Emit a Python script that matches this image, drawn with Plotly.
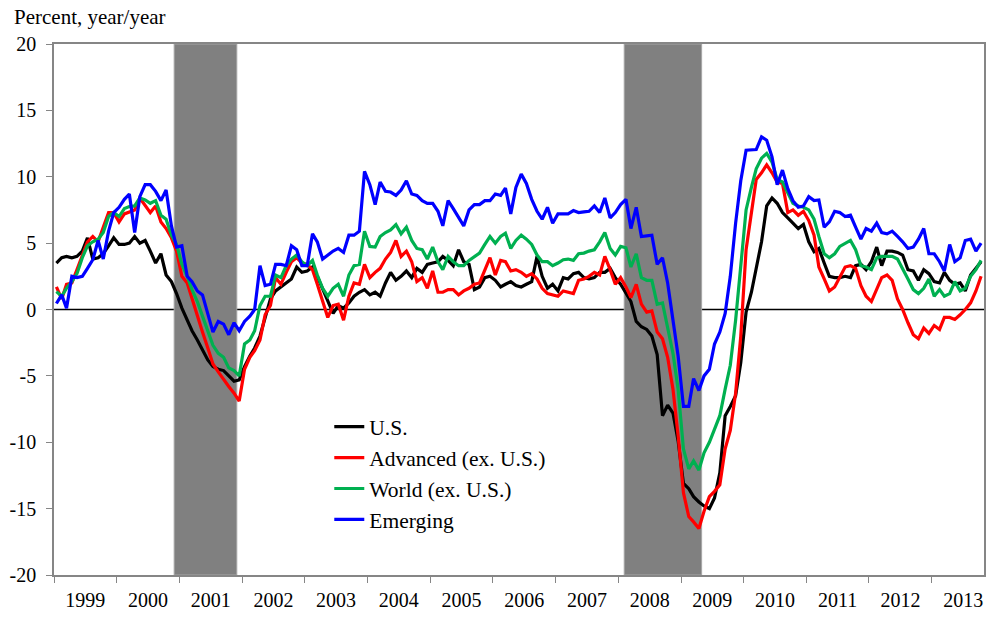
import pandas as pd
import plotly.graph_objects as go

# Monthly data, Jan 1999 - Oct 2013 (percent, year/year)
start_month = "1999-01-01"
n_months = 178

us = [3.5, 3.9, 4.0, 3.9, 4.0, 4.4, 5.4, 3.8, 3.9, 4.2, 4.8, 5.4,
      4.9, 4.9, 5.0, 5.5, 5.0, 5.2, 4.4, 3.5, 4.2, 2.6, 2.1, 1.2,
      0.1, -0.8, -1.6, -2.3, -3.1, -3.8, -4.3, -4.5, -4.6, -5.0, -5.4, -5.3,
      -4.3, -3.5, -2.9, -2.0, -0.6, 0.8, 1.4, 1.7, 2.0, 2.3, 3.2, 2.8,
      2.9, 3.2, 2.5, 1.6, 0.7, -0.3, 0.3, 0.1, 0.5, 1.0, 1.3, 1.5,
      1.1, 1.3, 1.0, 2.0, 2.8, 2.2, 2.5, 2.9, 2.4, 3.1, 2.8, 3.4,
      3.5, 3.6, 4.0, 3.7, 3.3, 4.5, 3.6, 3.4, 1.5, 1.7, 2.4, 2.5,
      2.2, 1.7, 1.9, 2.1, 1.8, 1.7, 1.9, 2.1, 4.0, 2.5, 1.6, 1.9,
      1.4, 2.4, 2.3, 2.7, 2.8, 2.4, 2.3, 2.4, 2.8, 2.8, 3.1, 2.4,
      1.9, 1.2, 0.6, -0.9, -1.3, -1.5, -2.0, -3.4, -8.0, -7.2, -7.8, -9.9,
      -13.1, -13.5, -14.1, -14.5, -14.8, -15.0, -14.2, -12.3, -8.0, -7.3, -6.5, -4.0,
      -0.2, 1.3, 3.2, 5.1, 7.8, 8.4, 8.0, 7.3, 6.9, 6.5, 6.1, 6.4,
      5.1, 4.35, 4.6, 3.5, 2.5, 2.4, 2.4, 2.5, 2.4, 3.3, 3.4, 3.0,
      3.6, 4.7, 3.3, 4.4, 4.4, 4.3, 4.1, 3.0, 2.9, 2.2, 3.0, 2.7,
      2.1, 2.0, 2.8, 2.2, 1.9, 2.0, 1.4, 2.6, 3.1, 3.6]

advanced = [1.7, 0.8, 1.9, 2.0, 3.0, 4.0, 5.1, 5.5, 5.1, 6.2, 7.3, 7.3,
            6.6, 7.2, 7.35, 7.5, 8.4, 7.8, 7.3, 7.8, 6.6, 6.1, 5.4, 4.4,
            2.5, 2.0, 0.8, -0.5, -1.7, -2.9, -4.1, -4.7, -5.3, -5.8, -6.3, -6.9,
            -4.5, -3.6, -3.1, -2.3, -0.4, 0.3, 2.4, 1.9, 2.8, 3.6, 3.9, 3.5,
            3.4, 3.0, 1.9, 0.6, -0.6, 0.3, 0.4, -0.8, 1.0, 2.0, 1.9, 3.4,
            2.4, 2.8, 3.1, 3.8, 4.3, 5.2, 4.0, 4.4, 3.6, 2.1, 2.4, 1.6,
            2.9, 1.3, 1.3, 1.5, 1.5, 1.1, 1.4, 1.6, 1.9, 2.0, 3.0, 3.9,
            2.6, 3.7, 3.6, 2.9, 3.0, 2.8, 2.5, 2.7, 2.3, 1.6, 1.2, 1.1,
            1.0, 1.4, 1.3, 1.2, 2.2, 2.3, 2.5, 2.8, 2.6, 4.0, 3.0, 1.9,
            2.4, 1.7, 0.9, 1.9, 0.4, -0.2, -0.1, -1.7, -2.2, -3.6, -6.0, -9.5,
            -13.8, -15.6, -16.0, -16.5, -15.2, -14.1, -13.7, -13.2, -10.5, -9.1, -6.3, -2.0,
            4.5, 7.2, 9.8, 10.3, 10.9, 10.3, 9.6, 9.5, 7.3, 7.5, 7.1, 7.4,
            6.7, 5.6, 3.2, 2.3, 1.4, 1.7, 2.5, 3.2, 3.3, 3.1, 1.8, 1.0,
            0.6, 1.5, 2.4, 2.6, 2.2, 0.8, 0.0, -1.0, -1.9, -2.2, -1.4, -1.8,
            -1.2, -1.5, -0.6, -0.6, -0.75, -0.4, 0.0, 0.5, 1.4, 2.5]

world = [1.35, 1.0, 1.6, 2.1, 2.7, 3.9, 4.8, 5.1, 5.3, 5.8, 7.0, 7.3,
         7.0, 7.6, 7.75, 7.8, 8.4, 8.25, 8.0, 8.2, 7.1, 6.8, 5.6, 4.9,
         3.4, 2.5, 1.5, 0.6, -0.5, -1.6, -2.7, -3.3, -3.6, -4.4, -4.6, -5.0,
         -2.6, -2.3, -1.6, 0.3, 1.0, 1.0, 2.6, 2.4, 3.3, 3.8, 4.1, 3.6,
         3.3, 3.7, 2.6, 1.6, 1.0, 1.6, 1.9, 1.0, 2.6, 3.3, 3.4, 5.9,
         4.75, 4.7, 5.5, 5.8, 6.0, 6.4, 5.7, 6.2, 5.2, 4.6, 4.5, 3.8,
         4.7, 3.6, 3.0, 4.0, 3.6, 3.3, 3.3, 3.7, 4.0, 4.25, 4.9, 5.5,
         5.0, 5.5, 5.75, 4.6, 5.2, 5.6, 5.3, 4.9, 4.1, 3.6, 3.6, 3.3,
         3.5, 3.75, 3.8, 3.7, 4.2, 4.25, 4.4, 4.5, 5.1, 5.8, 4.6, 4.1,
         4.75, 4.65, 3.2, 4.2, 2.4, 2.2, 2.2, 0.4, 0.5, -1.3, -3.3, -6.0,
         -10.5, -12.0, -11.4, -12.1, -10.8, -10.0, -9.0, -8.0, -6.0, -4.2, -0.8, 3.5,
         7.5, 9.2, 10.6, 11.4, 11.75, 11.1, 9.8, 9.6, 8.8, 8.0, 7.8, 7.7,
         7.5, 6.8, 5.5, 4.2, 3.9, 4.2, 4.75, 5.0, 5.2, 4.5, 3.3, 3.2,
         3.0, 3.9, 4.0, 4.0, 4.0, 3.8, 3.0, 2.3, 1.5, 1.2, 1.6, 2.3,
         1.0, 1.5, 1.0, 1.2, 2.1, 1.4, 1.6, 2.5, 3.0, 3.7]

emerging = [0.45, 1.1, 0.1, 2.5, 2.4, 2.5, 3.1, 3.75, 5.2, 3.8, 5.9, 7.3,
            7.7, 8.3, 8.7, 5.8, 8.5, 9.4, 9.4, 8.9, 8.2, 9.0, 6.3, 4.7,
            4.8, 2.5, 2.1, 1.4, 1.1, -0.4, -1.7, -0.9, -1.1, -1.9, -1.0, -1.6,
            -0.9, -0.5, 0.0, 3.3, 1.8, 1.9, 3.4, 3.4, 3.3, 4.8, 4.5, 3.3,
            3.3, 5.7, 5.1, 3.8, 4.1, 4.4, 4.6, 4.3, 5.6, 5.6, 5.9, 10.4,
            9.4, 7.9, 9.6, 8.9, 8.85, 8.6, 9.0, 9.7, 8.7, 8.6, 8.2, 8.0,
            8.0, 7.4, 6.3, 8.2, 7.6, 6.9, 6.3, 7.5, 7.9, 7.9, 8.2, 8.2,
            8.7, 8.6, 9.15, 7.2, 9.2, 10.2, 9.5, 8.3, 7.4, 6.8, 7.7, 6.5,
            7.2, 7.2, 7.2, 7.45, 7.3, 7.35, 7.4, 7.8, 7.3, 8.4, 6.9, 7.3,
            7.9, 8.3, 6.1, 7.7, 5.5, 5.55, 5.6, 3.4, 3.9, 2.0, -0.8, -3.5,
            -7.3, -7.3, -5.2, -6.1, -5.0, -4.5, -2.6, -1.7, -0.3, 2.5, 6.5, 9.7,
            12.0, 12.0, 12.05, 13.0, 12.75, 11.5, 9.4, 10.5, 9.1, 8.2, 7.7, 7.8,
            8.5, 8.2, 8.25, 6.2, 6.6, 7.4, 7.3, 7.0, 7.1, 6.2, 5.3, 6.1,
            5.9, 6.5, 5.8, 5.7, 5.9, 5.5, 5.1, 4.6, 4.7, 5.3, 6.1, 4.2,
            4.2, 3.6, 2.9, 4.9, 3.6, 3.9, 5.2, 5.3, 4.4, 5.0]

series_names = ["U.S.", "Advanced (ex. U.S.)", "World (ex. U.S.)", "Emerging"]
series_colors = ["#000000", "#FF0000", "#00B050", "#0000FF"]

recessions = [("2000-12-01", "2001-12-01"), ("2008-02-05", "2009-05-01")]

y_tickvals = [20, 15, 10, 5, 0, -5, -10, -15, -20]
y_ticktext = ["20", "15", "10", "5", "0", "-5", "-10", "-15", "-20"]

dates = pd.date_range(start=start_month, periods=n_months, freq="MS") + pd.Timedelta(days=14)

FONT = "Liberation Serif, Times New Roman, serif"
AXIS_GRAY = "#868686"

fig = go.Figure()
for name, vals, col in zip(series_names, [us, advanced, world, emerging], series_colors):
    fig.add_trace(go.Scatter(x=dates, y=vals, mode="lines", name=name,
                             line=dict(color=col, width=3.2)))

shapes = []
for s, e in recessions:
    shapes.append(dict(type="rect", xref="x", yref="y", x0=s, x1=e, y0=-20, y1=20,
                       fillcolor="#808080", line=dict(color="#A6A6A6", width=1), layer="below"))
shapes.append(dict(type="line", xref="paper", yref="y", x0=0, x1=1, y0=0, y1=0,
                   line=dict(color="#000000", width=1.5), layer="below"))

fig.update_layout(
    width=995, height=620,
    margin=dict(l=54, r=9, t=44, b=42),
    paper_bgcolor="white", plot_bgcolor="white",
    font=dict(family=FONT, size=20, color="#000000"),
    shapes=shapes,
    showlegend=True,
    legend=dict(x=0.296, y=0.318, xanchor="left", yanchor="top",
                bgcolor="rgba(0,0,0,0)", font=dict(family=FONT, size=21.5)),
    annotations=[dict(text="Percent, year/year", xref="paper", yref="paper",
                      x=-0.045, y=1.05, xanchor="left", yanchor="middle",
                      showarrow=False, font=dict(family=FONT, size=21))],
    xaxis=dict(type="date", range=["1999-01-01", "2013-11-01"],
               tick0="1999-01-01", dtick="M12", tickformat="%Y",
               ticklabelmode="period", ticks="outside", ticklen=6,
               tickcolor=AXIS_GRAY, showline=True, linecolor=AXIS_GRAY,
               linewidth=1.5, mirror=True, showgrid=False, zeroline=False,
               tickfont=dict(family=FONT, size=20)),
    yaxis=dict(range=[-20, 20], tickvals=y_tickvals, ticktext=y_ticktext,
               ticks="outside", ticklen=6, tickcolor=AXIS_GRAY,
               showline=True, linecolor=AXIS_GRAY, linewidth=1.5, mirror=True,
               showgrid=False, zeroline=False, ticklabelstandoff=6,
               tickfont=dict(family=FONT, size=20)),
)

fig.write_html("out.html", config={"displayModeBar": False},
               post_script="document.body.style.margin='0';")
